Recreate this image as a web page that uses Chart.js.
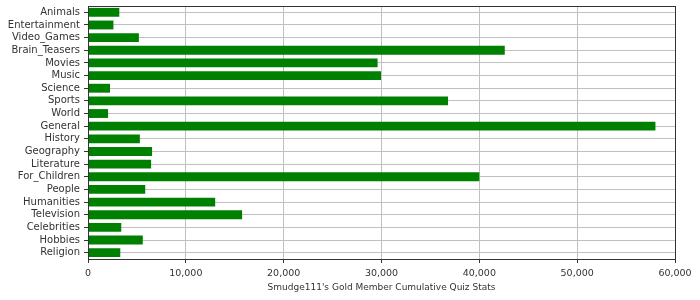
<!DOCTYPE html>
<html>
<head>
<meta charset="utf-8">
<script src="https://cdn.jsdelivr.net/npm/chart.js@4"></script>
<style>
  html, body { margin: 0; padding: 0; background: #fff; }
</style>
</head>
<body>
<canvas id="quizChart" width="700" height="300"></canvas>
<script>
// categories and values
const categories = ['Animals', 'Entertainment', 'Video_Games', 'Brain_Teasers', 'Movies', 'Music',
    'Science', 'Sports', 'World', 'General', 'History', 'Geography', 'Literature', 'For_Children',
    'People', 'Humanities', 'Television', 'Celebrities', 'Hobbies', 'Religion'];
const quizValues = [3200, 2600, 5200, 42600, 29600, 29950, 2250, 36800, 2050, 58000,
    5300, 6550, 6450, 40000, 5850, 13000, 15750, 3400, 5600, 3300];
const xTicks = [0, 10000, 20000, 30000, 40000, 50000, 60000];
const axisTitle = "Smudge111's Gold Member Cumulative Quiz Stats";

// frame round the plot area (top and right sides too)
const framePlugin = {
    id: 'frame',
    afterDraw(chart) {
        const { ctx, chartArea: a } = chart;
        ctx.save();
        ctx.strokeStyle = '#333';
        ctx.lineWidth = 1;
        ctx.strokeRect(Math.round(a.left) + 0.5, Math.round(a.top) + 0.5,
            Math.round(a.right - a.left), Math.round(a.bottom - a.top));
        ctx.restore();
    }
};

const labelFont = { family: 'DejaVu Sans', size: 10 };
const smallFont = { family: 'DejaVu Sans', size: 9.5 };
const titleFont = { family: 'DejaVu Sans', size: 9 };

new Chart(document.getElementById('quizChart'), {
    type: 'bar',
    data: {
        labels: categories,
        datasets: [{
            data: quizValues,
            backgroundColor: '#008000',
            borderWidth: 0,
            categoryPercentage: 1,
            barPercentage: 0.7
        }]
    },
    options: {
        indexAxis: 'y',
        responsive: false,
        animation: false,
        layout: { padding: { top: 6, right: 25, left: 0, bottom: 0 } },
        plugins: {
            legend: { display: false },
            tooltip: { enabled: false }
        },
        scales: {
            x: {
                min: 0,
                max: 60000,
                afterBuildTicks: s => { s.ticks = xTicks.map(v => ({ value: v })); },
                afterFit: s => { s.height = 41; },
                grid: { color: '#c0c0c0', tickColor: '#333', tickLength: 4 },
                border: { color: '#333' },
                ticks: { color: '#333', font: smallFont, padding: 5, maxRotation: 0 },
                title: { display: true, text: axisTitle, color: '#333', font: titleFont,
                    padding: { top: 0, bottom: 7 } }
            },
            y: {
                afterFit: s => {
                    s.width = 88;
                    s.paddingTop = 0;
                    s.paddingBottom = 0;
                },
                grid: { offset: false, color: '#c0c0c0', tickColor: '#333', tickLength: 4 },
                border: { color: '#333' },
                ticks: { color: '#333', font: labelFont, padding: 4, autoSkip: false }
            }
        }
    },
    plugins: [framePlugin]
});
</script>
</body>
</html>
